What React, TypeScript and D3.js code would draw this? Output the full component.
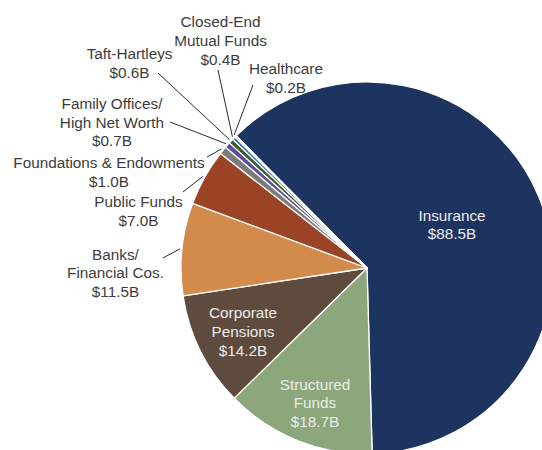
import React from "react";
import * as d3 from "d3";

// ---- data ----
const categories = [
  "Insurance",
  "Structured Funds",
  "Corporate Pensions",
  "Banks/Financial Cos.",
  "Public Funds",
  "Foundations & Endowments",
  "Family Offices/High Net Worth",
  "Taft-Hartleys",
  "Closed-End Mutual Funds",
  "Healthcare",
];
const values = [88.5, 18.7, 14.2, 11.5, 7.0, 1.0, 0.7, 0.6, 0.4, 0.2];
const labelLines = [
  ["Insurance"],
  ["Structured", "Funds"],
  ["Corporate", "Pensions"],
  ["Banks/", "Financial Cos."],
  ["Public Funds"],
  ["Foundations & Endowments"],
  ["Family Offices/", "High Net Worth"],
  ["Taft-Hartleys"],
  ["Closed-End", "Mutual Funds"],
  ["Healthcare"],
];

// ---- styles / layout ----
const colors = [
  "#1d3461",
  "#8ca77c",
  "#5e4b3e",
  "#d38b4c",
  "#9a4325",
  "#7c7c7c",
  "#5b4b9a",
  "#3d5b27",
  "#2b6db5",
  "#e2b46c",
];
const inside = [true, true, true, false, false, false, false, false, false, false];
// label anchor: [centerX, first-line centerY]
const labelPos: [number, number][] = [
  [452, 215],
  [315, 384],
  [243, 312.7],
  [115.5, 254],
  [138.5, 201.7],
  [109, 162.3],
  [112, 103.3],
  [129.6, 53.3],
  [220.5, 21.7],
  [286, 68.3],
];
// leader line outer end (near label)
const leaderEnd: ([number, number] | null)[] = [
  null,
  null,
  null,
  [163, 258],
  [183, 192],
  [207, 157],
  [170, 122],
  [158, 73],
  [218, 70],
  [253, 85],
];

const W = 542;
const H = 450;
const CX = 367;
const CY = 268;
const R = 186;
const START_DEG = -44.7;
const FONT = 15.3;
const LINE_H = 18.7;

export default function App() {
  const data = categories.map((c, i) => ({ c, v: values[i], i }));
  const start = (START_DEG * Math.PI) / 180;
  const pie = d3
    .pie<any>()
    .sort(null)
    .value((d) => d.v)
    .startAngle(start)
    .endAngle(start + 2 * Math.PI);
  const arcs = pie(data);
  const arc = d3.arc<any>().innerRadius(0).outerRadius(R);

  return (
    <svg
      width={W}
      height={H}
      style={{ position: "absolute", left: 0, top: 0, background: "#fff" }}
      fontFamily="'Liberation Sans', Arial, sans-serif"
      fontSize={FONT}
    >
      <g transform={`translate(${CX},${CY})`}>
        {arcs.map((a) => (
          <path
            key={a.data.c}
            d={arc(a) || ""}
            fill={colors[a.data.i]}
            stroke="#fff"
            strokeWidth={1.3}
            strokeLinejoin="round"
          />
        ))}
      </g>
      {arcs.map((a) => {
        const i = a.data.i;
        const end = leaderEnd[i];
        if (!end) return null;
        const mid = (a.startAngle + a.endAngle) / 2;
        const rr = R + 2;
        const x0 = CX + rr * Math.sin(mid);
        const y0 = CY - rr * Math.cos(mid);
        return (
          <line
            key={"l" + i}
            x1={x0}
            y1={y0}
            x2={end[0]}
            y2={end[1]}
            stroke="#2a2a2a"
            strokeWidth={1}
          />
        );
      })}
      {arcs.map((a) => {
        const i = a.data.i;
        const lines = [...labelLines[i], `$${values[i].toFixed(1)}B`];
        const [x, y] = labelPos[i];
        return (
          <text
            key={"t" + i}
            textAnchor="middle"
            fill={inside[i] ? "#ececec" : "#3c3c3c"}
          >
            {lines.map((ln, k) => (
              <tspan key={k} x={x} y={y + k * LINE_H + FONT * 0.36}>
                {ln}
              </tspan>
            ))}
          </text>
        );
      })}
    </svg>
  );
}
